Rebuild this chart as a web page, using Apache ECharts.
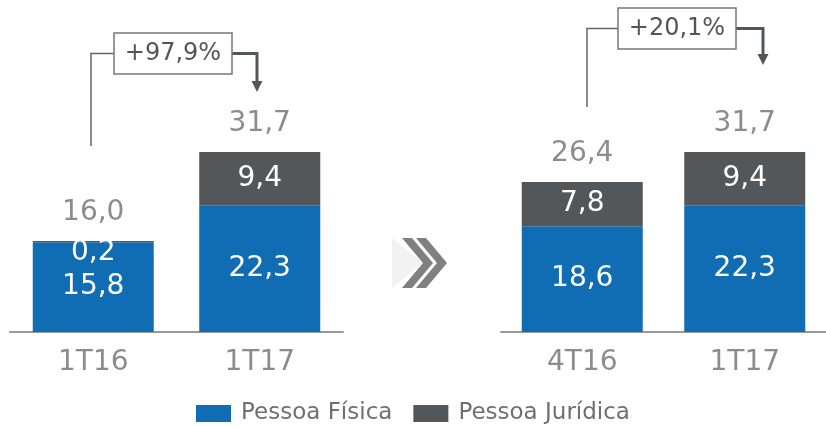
<!DOCTYPE html>
<html>
<head>
<meta charset="utf-8">
<script src="https://cdn.jsdelivr.net/npm/echarts@6/dist/echarts.min.js"></script>
<style>
html,body{margin:0;padding:0;background:#fff;}
#chart{width:826px;height:427px;}
</style>
</head>
<body>
<div id="chart"></div>
<script>
// ---- data ----
var leftCategories = ['1T16', '1T17'];
var rightCategories = ['4T16', '1T17'];
var leftPF = [15.8, 22.3];
var leftPJ = [0.2, 9.4];
var leftTotal = [16.0, 31.7];
var rightPF = [18.6, 22.3];
var rightPJ = [7.8, 9.4];
var rightTotal = [26.4, 31.7];
var growthLabels = ['+97,9%', '+20,1%'];
var seriesNames = ['Pessoa Física', 'Pessoa Jurídica'];

var BLUE = '#116db3';
var DARK = '#53575a';
var GRAY = '#8c8c8c';
var FONT = 'DejaVu Sans';

function fmt(v) { return v.toFixed(1).replace('.', ','); }

function pjData(arr) {
  return arr.map(function (v) {
    if (v < 1) return { value: v, label: { offset: [0, 11] } };
    return v;
  });
}

function panelSeries(idx, pf, pj, tot) {
  return [
    {
      name: seriesNames[0], type: 'bar', stack: 's' + idx, xAxisIndex: idx, yAxisIndex: idx,
      data: pf, barWidth: 121, itemStyle: { color: BLUE },
      label: { show: true, position: 'inside', color: '#fff', fontSize: 28, fontFamily: FONT,
        formatter: function (p) { return fmt(p.value); } }
    },
    {
      name: seriesNames[1], type: 'bar', stack: 's' + idx, xAxisIndex: idx, yAxisIndex: idx,
      data: pjData(pj), barWidth: 121, itemStyle: { color: DARK },
      label: { show: true, position: 'inside', color: '#fff', fontSize: 28, fontFamily: FONT,
        formatter: function (p) { return fmt(p.value); } }
    },
    {
      name: 'total' + idx, type: 'bar', xAxisIndex: idx, yAxisIndex: idx, barGap: '-100%',
      data: tot, barWidth: 121, itemStyle: { color: 'rgba(0,0,0,0)' }, silent: true, z: 1,
      label: { show: true, position: 'top', distance: 14, color: GRAY, fontSize: 28, fontFamily: FONT,
        formatter: function (p) { return fmt(p.value); } }
    }
  ];
}

function xAxis(idx, cats) {
  return {
    type: 'category', gridIndex: idx, data: cats,
    axisLine: { lineStyle: { color: '#999', width: 2 } },
    axisTick: { show: false },
    axisLabel: { color: GRAY, fontSize: 28, fontFamily: FONT, margin: 17 }
  };
}
function yAxis(idx) {
  return { type: 'value', gridIndex: idx, min: 0, max: 50, show: false, splitLine: { show: false } };
}

function arrowGraphics(x1, yStart, boxL, boxR, boxT, boxB, x2, yTip, text) {
  var midY = (boxT + boxB) / 2;
  return [
    { type: 'polyline', shape: { points: [[x1, yStart], [x1, midY], [boxL, midY]] },
      style: { stroke: '#666', lineWidth: 1.5, fill: null } },
    { type: 'polyline', shape: { points: [[boxR, midY], [x2, midY], [x2, yTip - 10]] },
      style: { stroke: DARK, lineWidth: 3, fill: null } },
    { type: 'polygon', shape: { points: [[x2 - 5.5, yTip - 11], [x2 + 5.5, yTip - 11], [x2, yTip]] },
      style: { fill: DARK } },
    { type: 'rect', shape: { x: boxL, y: boxT, width: boxR - boxL, height: boxB - boxT },
      style: { stroke: '#777', lineWidth: 1.5, fill: '#fff' } },
    { type: 'text', x: (boxL + boxR) / 2, y: midY,
      style: { text: text, fill: '#555', font: '24px "DejaVu Sans"', align: 'center', verticalAlign: 'middle' } }
  ];
}

var graphics = []
  .concat(arrowGraphics(91, 146, 114, 232, 33, 74, 257, 92, growthLabels[0]))
  .concat(arrowGraphics(587, 107, 618, 736, 8, 49, 763, 65, growthLabels[1]))
  .concat([
    { type: 'polygon', shape: { points: [[392, 238], [423, 263], [392, 288]] }, style: { fill: '#f2f2f2' } },
    { type: 'polygon', shape: { points: [[402, 238], [412, 238], [433, 263], [412, 288], [402, 288], [423, 263]] }, style: { fill: '#808080' } },
    { type: 'polygon', shape: { points: [[416, 238], [426, 238], [447, 263], [426, 288], [416, 288], [437, 263]] }, style: { fill: '#808080' } }
  ]);

var chart = echarts.init(document.getElementById('chart'), null, { renderer: 'canvas' });
chart.setOption({
  animation: false,
  backgroundColor: '#fff',
  grid: [
    { left: 10, width: 333, top: 48, height: 284 },
    { left: 501, width: 325, top: 48, height: 284 }
  ],
  xAxis: [xAxis(0, leftCategories), xAxis(1, rightCategories)],
  yAxis: [yAxis(0), yAxis(1)],
  legend: {
    data: seriesNames, left: 191, top: 397, itemWidth: 35, itemHeight: 17, itemGap: 21,
    icon: 'rect',
    textStyle: { color: '#6f6f6f', fontSize: 23, fontFamily: FONT, padding: [0, 0, 0, 5] }
  },
  series: [].concat(panelSeries(0, leftPF, leftPJ, leftTotal), panelSeries(1, rightPF, rightPJ, rightTotal)),
  graphic: graphics
});
</script>
</body>
</html>
